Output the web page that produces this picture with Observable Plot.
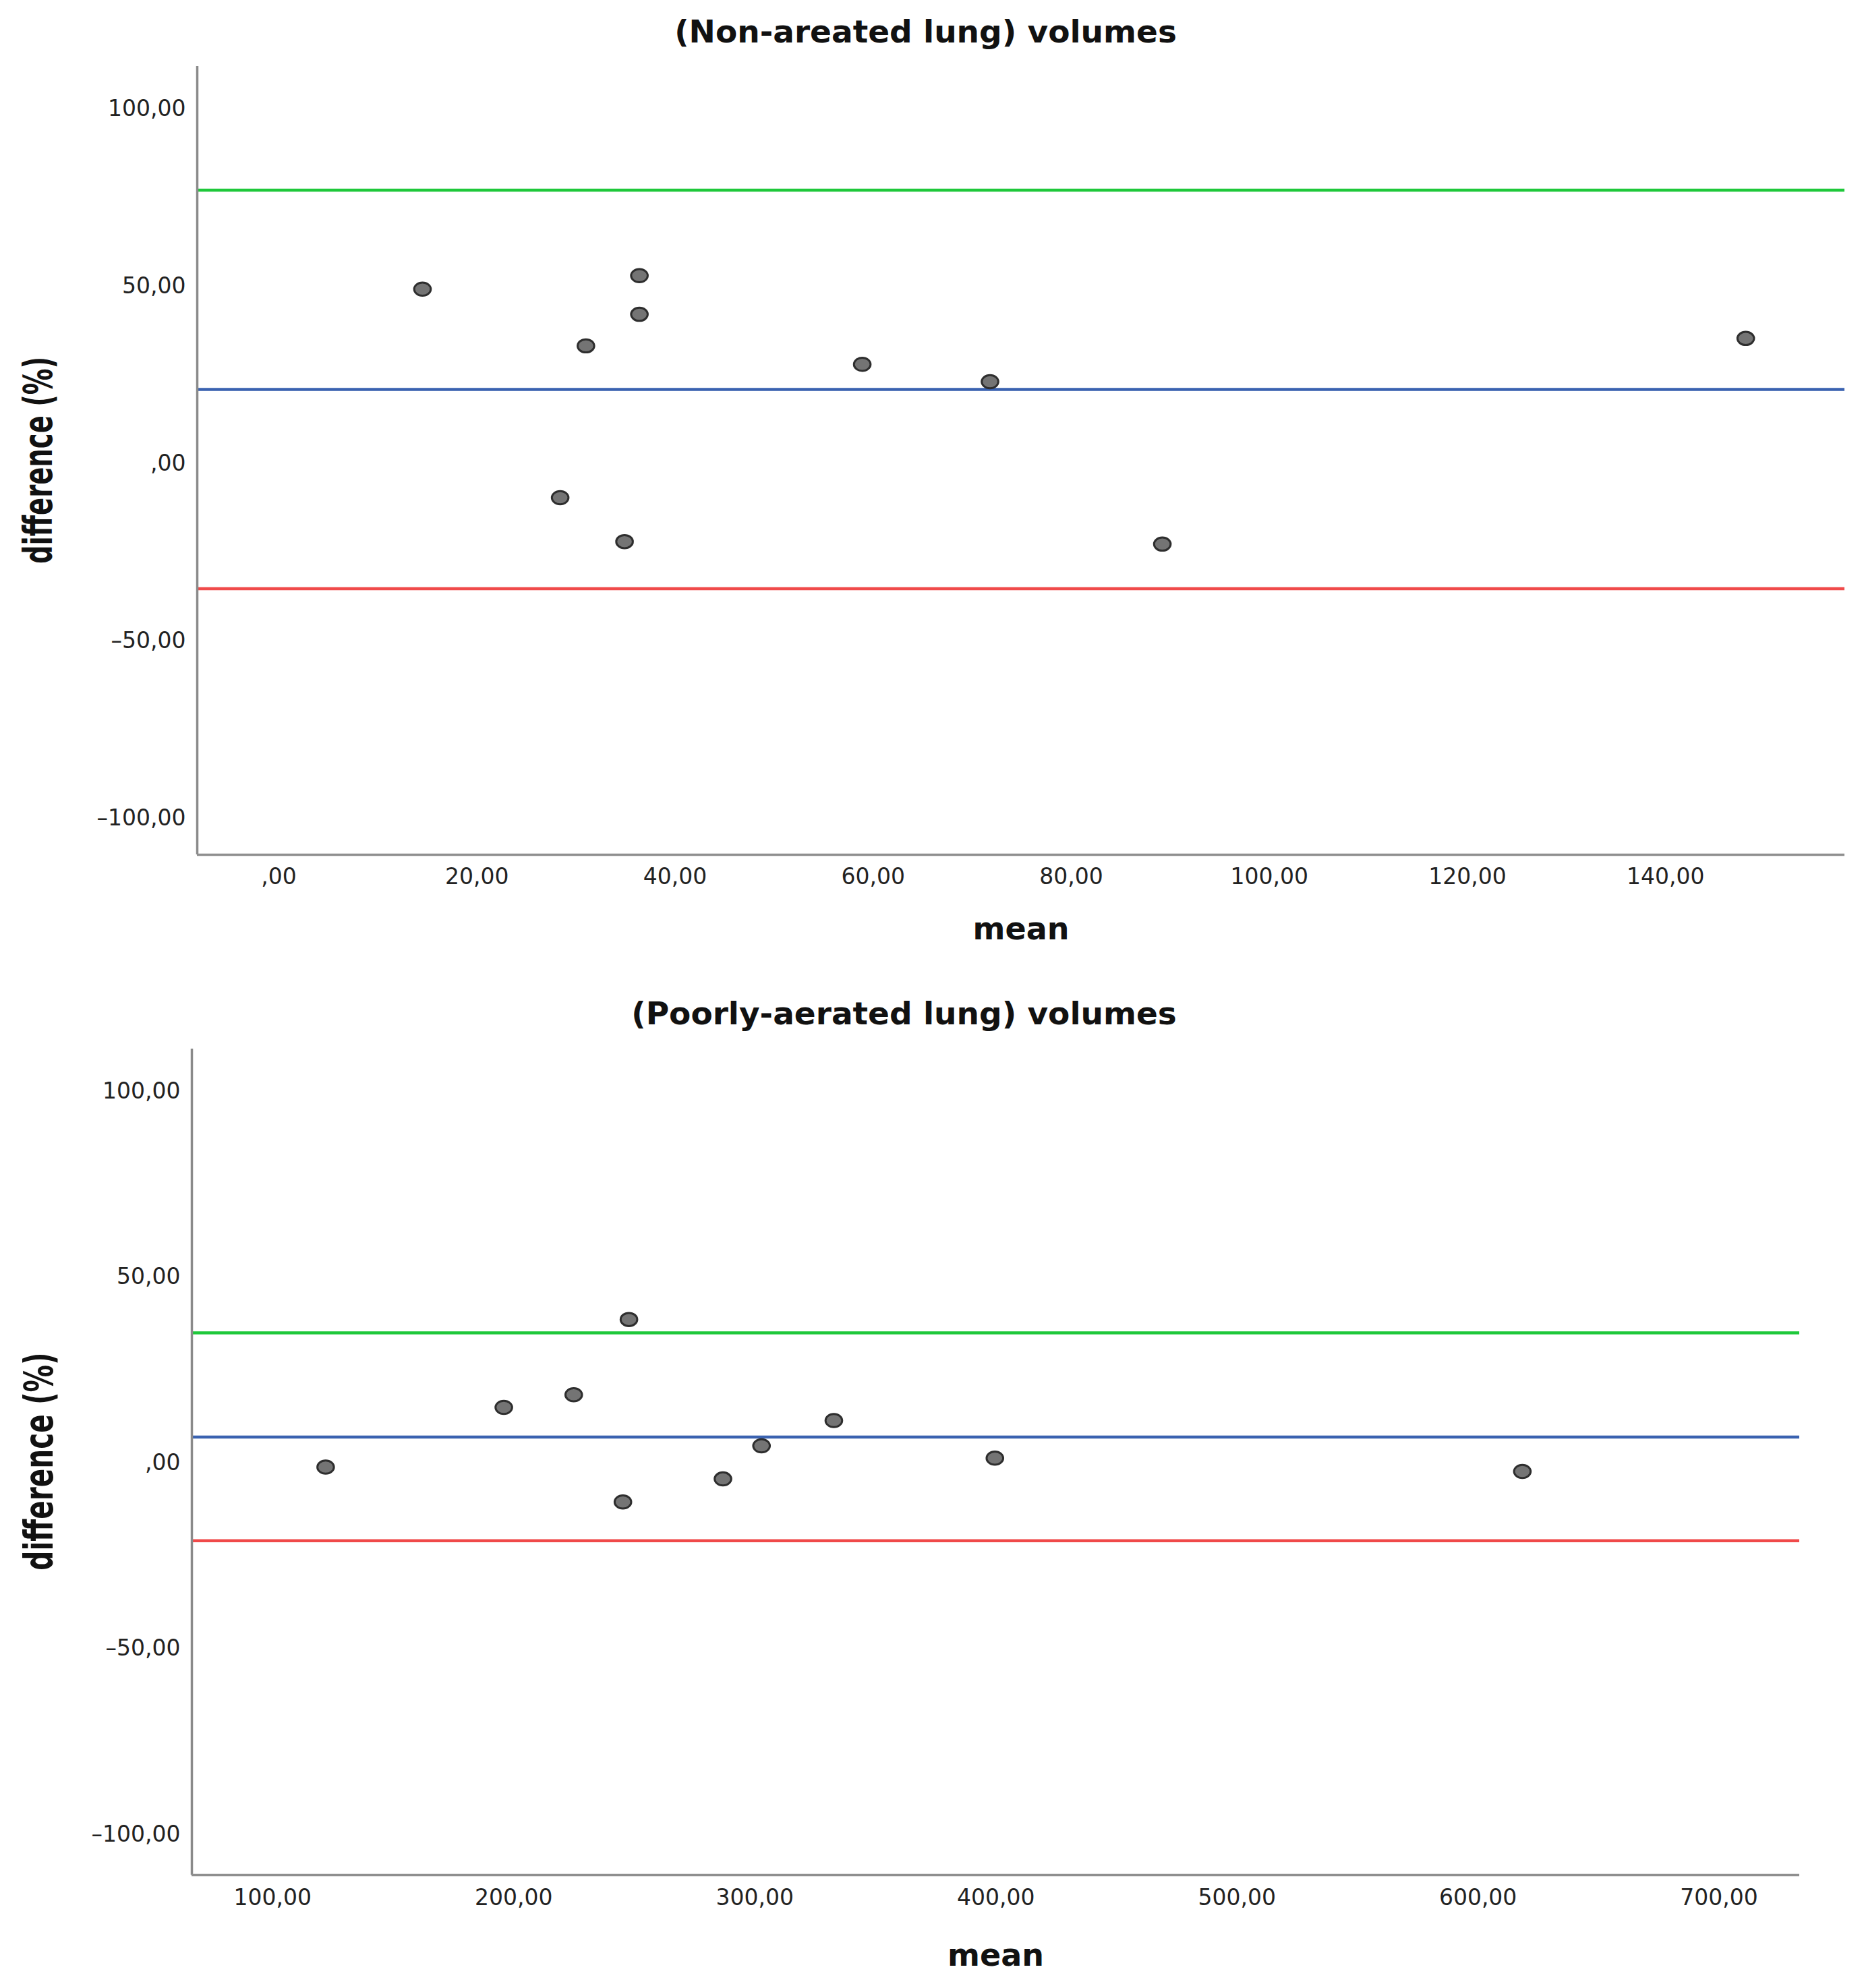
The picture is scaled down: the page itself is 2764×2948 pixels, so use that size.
<!DOCTYPE html>
<html>
<head>
<meta charset="utf-8">
<script src="https://cdn.jsdelivr.net/npm/d3@7"></script>
<script src="https://cdn.jsdelivr.net/npm/@observablehq/plot@0.6"></script>
<style>
html, body { margin: 0; padding: 0; background: #fff; overflow: hidden; }
#chart { width: 2764px; height: 2948px; position: relative; background: #fff; }
#chart svg { display: block; }
</style>
</head>
<body>
<div id="chart"></div>
<script>
// ---- Data: (Non-areated lung) volumes ----
const nonTitle = "(Non-areated lung) volumes";
const nonMean = [14.5, 28.4, 31.0, 34.9, 36.4, 36.4, 58.9, 71.8, 89.2, 148.1];
const nonDiff = [49.2, -9.6, 33.2, -22.0, 53.0, 42.1, 28.0, 23.1, -22.7, 35.3];
const nonLines = [77.1, 20.9, -35.3];          // upper limit, mean difference, lower limit
const nonXTicks = [0, 20, 40, 60, 80, 100, 120, 140];
const nonXDomain = [-8.24, 158.1];
const nonYDomain = [-110.3, 112.0];

// ---- Data: (Poorly-aerated lung) volumes ----
const poorTitle = "(Poorly-aerated lung) volumes";
const poorMean = [122.0, 195.9, 224.9, 245.3, 247.8, 286.8, 302.8, 332.8, 399.6, 618.4];
const poorDiff = [-1.1, 14.95, 18.35, -10.5, 38.6, -4.3, 4.6, 11.4, 1.3, -2.3];
const poorLines = [35.0, 6.95, -20.95];
const poorXTicks = [100, 200, 300, 400, 500, 600, 700];
const poorXDomain = [66.5, 733.4];
const poorYDomain = [-110.9, 111.4];

const yTicks = [-100, -50, 0, 50, 100];
const xLabel = "mean";
const yLabel = "difference (%)";
const lineColors = ["#1ec83a", "#3a62b0", "#f04a4a"];

// SPSS-style number format: 100,00  50,00  ,00  –50,00
function fmt(d) {
  let s = Math.abs(d).toFixed(2).replace(".", ",");
  if (s.startsWith("0,")) s = s.slice(1);
  return (d < 0 ? "\u2013" : "") + s;
}

// slightly wide elliptical marker, as in the reference
const ellipse = {
  draw(ctx, size) {
    const r = Math.sqrt(size / Math.PI);
    const rx = r * 1.14, ry = r * 0.9, k = 0.5523;
    ctx.moveTo(rx, 0);
    ctx.bezierCurveTo(rx, ry * k, rx * k, ry, 0, ry);
    ctx.bezierCurveTo(-rx * k, ry, -rx, ry * k, -rx, 0);
    ctx.bezierCurveTo(-rx, -ry * k, -rx * k, -ry, 0, -ry);
    ctx.bezierCurveTo(rx * k, -ry, rx, -ry * k, rx, 0);
    ctx.closePath();
  }
};

function chart(o) {
  const data = o.means.map((m, i) => ({mean: m, diff: o.diffs[i]}));
  const svg = Plot.plot({
    width: 2764,
    height: o.height,
    marginLeft: o.ml, marginRight: o.mr, marginTop: o.mt, marginBottom: o.mb,
    style: {fontFamily: "DejaVu Sans", background: "#fff", color: "#222", overflow: "visible"},
    x: {domain: o.xDomain},
    y: {domain: o.yDomain},
    marks: [
      Plot.ruleY([o.lines[0]], {stroke: lineColors[0], strokeWidth: 4.5}),
      Plot.ruleY([o.lines[1]], {stroke: lineColors[1], strokeWidth: 4.5}),
      Plot.ruleY([o.lines[2]], {stroke: lineColors[2], strokeWidth: 4.5}),
      Plot.ruleX([o.xDomain[0]], {stroke: "#8a8a8a", strokeWidth: 3.5}),
      Plot.ruleY([o.yDomain[0]], {stroke: "#8f8f8f", strokeWidth: 3.5}),
      Plot.axisY({ticks: yTicks, tickSize: 0, tickPadding: 17, tickFormat: fmt, fontSize: 33, label: null, fill: "#222"}),
      Plot.axisX({ticks: o.xTicks, tickSize: 0, tickPadding: o.xPad, tickFormat: fmt, fontSize: 33, label: null, fill: "#222"}),
      Plot.dot(data, {x: "mean", y: "diff", r: 10.8, symbol: ellipse, fill: "#747474", stroke: "#2e2e2e", strokeWidth: 3}),
      Plot.text([o.title], {frameAnchor: "top", textAnchor: "middle", lineAnchor: "bottom", dx: o.titleDx, dy: o.titleDy, fontSize: 47, fontWeight: "bold", fill: "#111"}),
      Plot.text([xLabel], {frameAnchor: "bottom", textAnchor: "middle", lineAnchor: "bottom", dy: o.meanDy, fontSize: 46, fontWeight: "bold", fill: "#111"}),
      Plot.text([yLabel], {frameAnchor: "left", textAnchor: "middle", lineAnchor: "middle", rotate: -90, dx: o.ylabDx, dy: o.ylabDy, fontSize: 58, fontWeight: "bold", fill: "#111"})
    ]
  });
  // condense the rotated y label along its length, as in the reference
  svg.querySelectorAll("text").forEach(t => {
    if (t.textContent === yLabel) {
      t.setAttribute("transform", (t.getAttribute("transform") || "") + ` scale(${o.ylabScale},1)`);
    }
  });
  return svg;
}

const root = document.getElementById("chart");
root.append(chart({
  title: nonTitle, means: nonMean, diffs: nonDiff, lines: nonLines,
  xTicks: nonXTicks, xDomain: nonXDomain, yDomain: nonYDomain,
  height: 1450, ml: 292, mr: 29, mt: 98, mb: 183, xPad: 20,
  titleDx: -141.5, titleDy: -36, meanDy: 125.7,
  ylabDx: -234.5, ylabDy: -0.5, ylabScale: 0.665
}));
root.append(chart({
  title: poorTitle, means: poorMean, diffs: poorDiff, lines: poorLines,
  xTicks: poorXTicks, xDomain: poorXDomain, yDomain: poorYDomain,
  height: 1498, ml: 284, mr: 96, mt: 105, mb: 168, xPad: 21,
  titleDx: -136, titleDy: -36.7, meanDy: 134,
  ylabDx: -225, ylabDy: -1, ylabScale: 0.7
}));
</script>
</body>
</html>
